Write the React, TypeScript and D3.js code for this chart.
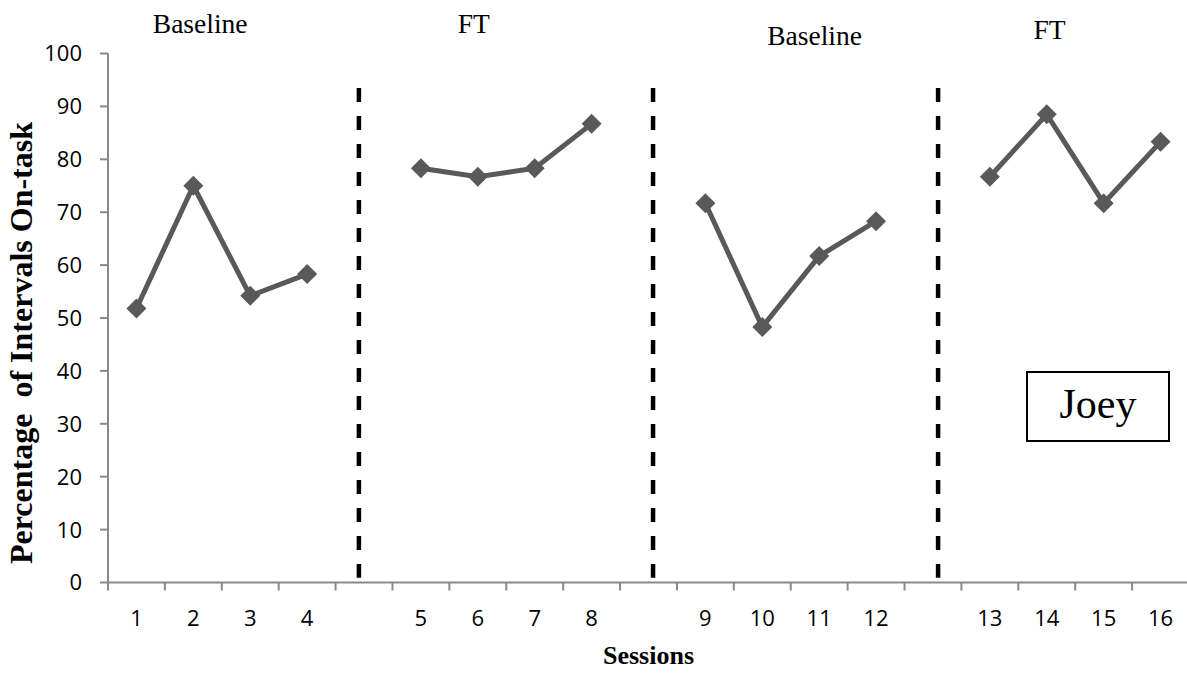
import React from "react";
import * as d3 from "d3";

const categories = ["1","2","3","4","","5","6","7","8","","9","10","11","12","","13","14","15","16"];
const values: (number | null)[] = [51.8,75,54.2,58.3,null,78.3,76.7,78.3,86.7,null,71.7,48.3,61.7,68.3,null,76.7,88.5,71.7,83.3];
const yTicks = [0,10,20,30,40,50,60,70,80,90,100];
const phaseLinePositions = [4.41, 9.58, 14.59];
const phaseLabels = [
  { text: "Baseline", at: 1.62, level: 0 },
  { text: "FT", at: 6.43, level: 0 },
  { text: "Baseline", at: 12.42, level: 1 },
  { text: "FT", at: 16.55, level: 0.5 },
];

const W = 1187, H = 673;
const left = 108, right = 1189, top = 53.5, bottom = 582.5;

export default function App() {
  const n = categories.length;
  const x = d3.scaleLinear().domain([0, n]).range([left, right]);
  const y = d3.scaleLinear().domain([0, 100]).range([bottom, top]);
  const cx = (i: number) => x(i + 0.5);

  const line = d3.line<number | null>()
    .defined((d) => d !== null)
    .x((_, i) => cx(i))
    .y((d) => y(d as number));

  const pts = values.map((v, i) => ({ v, i })).filter((p) => p.v !== null);
  const axisColor = "#898989";
  const markColor = "#595959";

  return (
    <svg width={W} height={H} style={{ position: "absolute", left: 0, top: 0, background: "#fff" }}>
      {phaseLabels.map((p, k) => (
        <text key={k} x={x(p.at)} y={33 + p.level * 12} textAnchor="middle"
          fontFamily="'Liberation Serif', 'Times New Roman', serif" fontSize={27.5} fill="#000">{p.text}</text>
      ))}
      <line x1={left} x2={left} y1={y(100)} y2={y(0)} stroke={axisColor} strokeWidth={2} />
      {yTicks.map((t) => (
        <g key={t}>
          <line x1={left - 8} x2={left} y1={y(t)} y2={y(t)} stroke={axisColor} strokeWidth={2} />
          <text x={82} y={y(t)} dy="0.36em" textAnchor="end" fontFamily="'Open Sans', sans-serif" fontSize={22} fill="#000">{t}</text>
        </g>
      ))}
      <line x1={left} x2={right} y1={y(0)} y2={y(0)} stroke={axisColor} strokeWidth={2} />
      {d3.range(n + 1).map((i) => (
        <line key={i} x1={x(i)} x2={x(i)} y1={y(0)} y2={y(0) + 8} stroke={axisColor} strokeWidth={2} />
      ))}
      {categories.map((c, i) => (
        <text key={i} x={cx(i)} y={626} textAnchor="middle" fontFamily="'Open Sans', sans-serif" fontSize={22} fill="#000">{c}</text>
      ))}
      {phaseLinePositions.map((p, k) => (
        <line key={k} x1={x(p)} x2={x(p)} y1={y(93.5)} y2={y(0.9)} stroke="#000" strokeWidth={4.5} strokeDasharray="14 14" />
      ))}
      <path d={line(values) || ""} fill="none" stroke={markColor} strokeWidth={5} strokeLinejoin="round" />
      {pts.map((p) => {
        const px = cx(p.i), py = y(p.v as number);
        const s = 10;
        return <path key={p.i} d={`M${px},${py - s}L${px + s},${py}L${px},${py + s}L${px - s},${py}Z`} fill={markColor} />;
      })}
      <text x={cx(9)} y={664} textAnchor="middle" fontFamily="'Liberation Serif', 'Times New Roman', serif" fontWeight="bold" fontSize={26} fill="#000">Sessions</text>
      <text transform={`translate(32, ${343}) rotate(-90)`} textAnchor="middle" fontFamily="'Liberation Serif', 'Times New Roman', serif" fontWeight="bold" fontSize={32} fill="#000" style={{ whiteSpace: "pre" }}>{"Percentage  of Intervals On-task"}</text>
      <rect x={1027} y={372} width={142} height={69} fill="#fff" stroke="#000" strokeWidth={2} />
      <text x={1098} y={418} textAnchor="middle" fontFamily="'Liberation Serif', 'Times New Roman', serif" fontSize={42} fill="#000">Joey</text>
    </svg>
  );
}
